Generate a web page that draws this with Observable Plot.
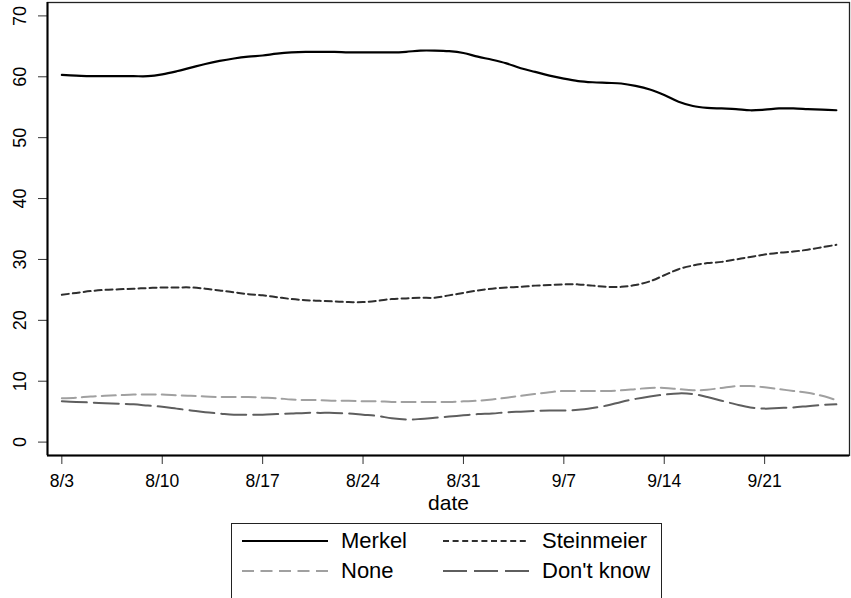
<!DOCTYPE html>
<html>
<head>
<meta charset="utf-8">
<script src="https://cdn.jsdelivr.net/npm/d3@7"></script>
<script src="https://cdn.jsdelivr.net/npm/@observablehq/plot@0.6"></script>
<style>
  body { margin: 0; background: #fff; font-family: "Liberation Sans", Arial, Helvetica, sans-serif; }
  #wrap { position: relative; width: 851px; height: 598px; overflow: hidden; background: #fff; }
  #chart { position: absolute; left: 0; top: 0; }
  #legend { position: absolute; left: 231px; top: 523px; width: 431px; height: 82px; border: 1px solid #222; box-sizing: border-box; background: #fff; }
  .item { position: absolute; height: 30px; display: flex; align-items: center; font-size: 22px; color: #000; }
  .item svg { display: block; margin-right: 13px; }
</style>
</head>
<body>
<div id="wrap">
  <div id="chart"></div>
  <div id="legend"></div>
</div>
<script>
// Series names
const seriesNames = ["Merkel", "Steinmeier", "None", "Don't know"];

// Daily values from 8/3 to 9/26 (2009)
const merkel = [60.3, 60.2, 60.1, 60.1, 60.1, 60.1, 60.1, 60.4, 60.9, 61.5,
  62.1, 62.6, 63.0, 63.3, 63.5, 63.8, 64.0, 64.1, 64.1, 64.1,
  64.0, 64.0, 64.0, 64.0, 64.1, 64.3, 64.3, 64.2, 63.9, 63.3,
  62.8, 62.2, 61.4, 60.8, 60.2, 59.7, 59.3, 59.1, 59.0, 58.9,
  58.5, 57.9, 57.0, 55.9, 55.2, 54.9, 54.8, 54.7, 54.5, 54.6,
  54.8, 54.8, 54.7, 54.6, 54.5];
const steinmeier = [24.2, 24.5, 24.8, 25.0, 25.1, 25.2, 25.3, 25.4, 25.4, 25.4,
  25.2, 24.9, 24.6, 24.3, 24.1, 23.8, 23.5, 23.3, 23.2, 23.1,
  23.0, 23.0, 23.2, 23.5, 23.6, 23.7, 23.7, 24.1, 24.5, 24.9,
  25.2, 25.4, 25.5, 25.7, 25.8, 25.9, 25.9, 25.7, 25.5, 25.5,
  25.8, 26.4, 27.4, 28.4, 29.0, 29.4, 29.6, 30.0, 30.4, 30.8,
  31.1, 31.3, 31.6, 32.0, 32.4];
const none = [7.2, 7.3, 7.5, 7.6, 7.7, 7.8, 7.8, 7.8, 7.7, 7.6,
  7.5, 7.4, 7.4, 7.4, 7.3, 7.2, 7.0, 6.9, 6.9, 6.8,
  6.8, 6.7, 6.7, 6.6, 6.6, 6.6, 6.6, 6.6, 6.7, 6.8,
  7.0, 7.3, 7.6, 7.9, 8.2, 8.4, 8.4, 8.4, 8.4, 8.5,
  8.7, 8.9, 8.9, 8.7, 8.5, 8.6, 8.9, 9.2, 9.2, 9.0,
  8.7, 8.4, 8.1, 7.6, 6.9];
const dontKnow = [6.7, 6.6, 6.5, 6.4, 6.3, 6.2, 6.0, 5.8, 5.5, 5.2,
  4.9, 4.7, 4.5, 4.5, 4.5, 4.6, 4.7, 4.8, 4.8, 4.8,
  4.7, 4.5, 4.3, 3.9, 3.7, 3.8, 4.0, 4.2, 4.4, 4.6,
  4.7, 4.9, 5.0, 5.1, 5.2, 5.2, 5.3, 5.6, 6.0, 6.6,
  7.1, 7.5, 7.8, 8.0, 7.9, 7.4, 6.8, 6.2, 5.7, 5.5,
  5.6, 5.7, 5.9, 6.1, 6.2];

// Dates
const dates = d3.utcDay.range(new Date(Date.UTC(2009, 7, 3)), new Date(Date.UTC(2009, 8, 27)));

// Tick labels
const xTickLabels = ["8/3", "8/10", "8/17", "8/24", "8/31", "9/7", "9/14", "9/21"];
const yTicks = [0, 10, 20, 30, 40, 50, 60, 70];

const parseMD = s => { const [m, d] = s.split("/").map(Number); return new Date(Date.UTC(2009, m - 1, d)); };
const xTicks = xTickLabels.map(parseMD);
const fmt = d => `${d.getUTCMonth() + 1}/${d.getUTCDate()}`;

const styles = {
  "Merkel": {stroke: "#000000", dash: null, width: 2.2},
  "Steinmeier": {stroke: "#2e2e2e", dash: "7,4", width: 2},
  "None": {stroke: "#a0a0a0", dash: "14,6", width: 2},
  "Don't know": {stroke: "#5e5e5e", dash: "25,7", width: 2}
};
const valuesBySeries = {"Merkel": merkel, "Steinmeier": steinmeier, "None": none, "Don't know": dontKnow};
const table = seriesNames.flatMap(s => valuesBySeries[s].map((v, i) => ({series: s, date: dates[i], value: v})));

const lineMarks = seriesNames.map(s => Plot.line(table.filter(d => d.series === s), {
  x: "date", y: "value", stroke: styles[s].stroke, strokeWidth: styles[s].width,
  strokeDasharray: styles[s].dash, curve: "catmull-rom", strokeLinejoin: "round"
}));

const chart = Plot.plot({
  width: 851,
  height: 520,
  marginLeft: 47,
  marginRight: 2,
  marginTop: 2,
  marginBottom: 65,
  style: {fontFamily: '"Liberation Sans", Arial, Helvetica, sans-serif', background: "#fff"},
  x: {type: "utc", domain: [new Date(Date.UTC(2009, 7, 2)), new Date(Date.UTC(2009, 8, 26, 22))]},
  y: {domain: [-2.2, 72.2]},
  marks: [
    Plot.axisX({ticks: xTicks, tickFormat: fmt, tickSize: 9, tickPadding: 10, fontSize: 17.5, stroke: "#333", fill: "#000", label: null}),
    Plot.axisY({ticks: yTicks, tickSize: 9, tickFormat: () => "", stroke: "#333", label: null}),
    Plot.text(yTicks, {y: d => d, text: d => String(d), frameAnchor: "left", dx: -27, rotate: -90, textAnchor: "middle", lineAnchor: "middle", fontSize: 18, fill: "#000"}),
    Plot.text(["date"], {frameAnchor: "bottom", dy: 48, lineAnchor: "middle", text: d => d, fontSize: 21, fill: "#000"}),
    ...lineMarks,
    Plot.frame({stroke: "#222", strokeWidth: 1.3}),
    Plot.ruleX([0], {x: () => new Date(Date.UTC(2009, 7, 2)), stroke: "#000", strokeWidth: 2}),
    Plot.ruleY([-2.2], {stroke: "#000", strokeWidth: 2})
  ]
});
document.getElementById("chart").appendChild(chart);

// Legend
const legend = document.getElementById("legend");
const pos = [
  {left: 10, top: 17}, {left: 211, top: 17},
  {left: 10, top: 47}, {left: 211, top: 47}
];
seriesNames.forEach((s, i) => {
  const st = styles[s];
  const item = document.createElement("div");
  item.className = "item";
  item.style.left = pos[i].left + "px";
  item.style.top = (pos[i].top - 15) + "px";
  const ns = "http://www.w3.org/2000/svg";
  const svg = document.createElementNS(ns, "svg");
  svg.setAttribute("width", 86); svg.setAttribute("height", 10);
  const ln = document.createElementNS(ns, "line");
  ln.setAttribute("x1", 0); ln.setAttribute("x2", 86);
  ln.setAttribute("y1", 5); ln.setAttribute("y2", 5);
  ln.setAttribute("stroke", st.stroke);
  ln.setAttribute("stroke-width", st.width);
  if (st.dash) ln.setAttribute("stroke-dasharray", s === "Steinmeier" ? "6,3.6" : s === "None" ? "12,6.5" : "24,7");
  svg.appendChild(ln);
  item.appendChild(svg);
  const t = document.createElement("span");
  t.textContent = s;
  item.appendChild(t);
  legend.appendChild(item);
});
</script>
</body>
</html>
